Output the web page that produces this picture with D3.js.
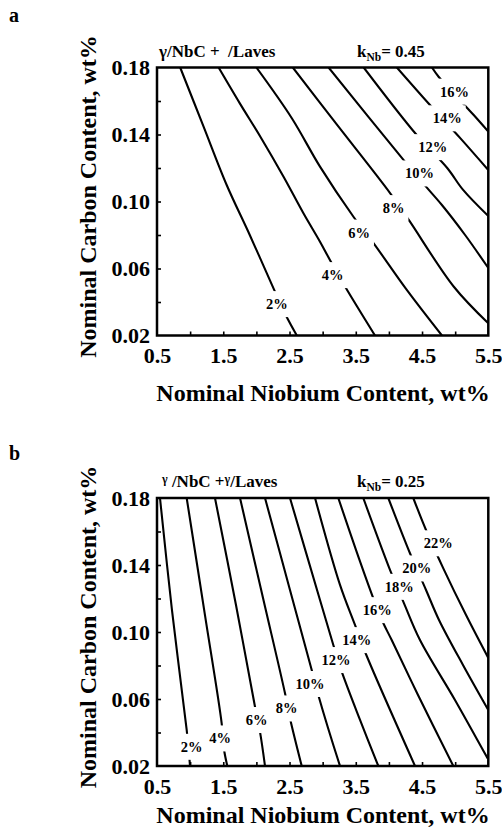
<!DOCTYPE html>
<html>
<head>
<meta charset="utf-8">
<script src="https://cdn.jsdelivr.net/npm/d3@7"></script>
<style>
  body { margin: 0; background: #fff; }
  svg text { font-family: "Liberation Serif", "Times New Roman", serif; font-weight: bold; fill: #000; }
</style>
</head>
<body>
<div id="chart"></div>
<script>
// axis ticks
var nbTicks = [0.5, 1.5, 2.5, 3.5, 4.5, 5.5];
var nbMinor = [1.0, 1.5, 2.0, 2.5, 3.0, 3.5, 4.0, 4.5, 5.0];
var cTicks = [0.02, 0.06, 0.10, 0.14, 0.18];
var cMinor = [0.04, 0.06, 0.08, 0.10, 0.12, 0.14, 0.16];

// panel a, kNb = 0.45 : iso-lines of eutectic fraction, [Nb wt%, C wt%]
var levelsA = ["2%", "4%", "6%", "8%", "10%", "12%", "14%", "16%"];
var linesA = [
  [[0.85, 0.18], [1.2, 0.145], [1.55, 0.11], [1.9, 0.08], [2.26, 0.048], [2.45, 0.0316], [2.61, 0.02]],
  [[1.43, 0.18], [1.75, 0.1586], [2.06, 0.1387], [2.41, 0.1148], [2.71, 0.093], [2.96, 0.076], [3.11, 0.0651], [3.34, 0.0491], [3.79, 0.02]],
  [[2.0, 0.18], [2.535, 0.1497], [2.96, 0.1208], [3.465, 0.0909], [3.77, 0.075], [4.27, 0.0472], [4.8, 0.02]],
  [[2.55, 0.18], [3.16, 0.1487], [4.02, 0.1049], [4.3, 0.089], [4.98, 0.0491], [5.5, 0.0273]],
  [[3.09, 0.18], [4.22, 0.1248], [4.55, 0.1093], [4.8, 0.0979], [5.15, 0.08], [5.5, 0.0603]],
  [[3.62, 0.18], [4.42, 0.1397], [4.88, 0.12], [5.12, 0.1069], [5.5, 0.0913]],
  [[4.12, 0.18], [4.62, 0.1576], [5.08, 0.1377], [5.5, 0.1188]],
  [[4.65, 0.18], [4.75, 0.1745], [5.28, 0.1516], [5.5, 0.1417]]
];
var labelsA = [[2.31, 0.0388], [3.15, 0.0561], [3.55, 0.0815], [4.07, 0.0961], [4.46, 0.1168], [4.66, 0.1325], [4.88, 0.1497], [4.99, 0.1656]];

// panel b, kNb = 0.25
var levelsB = ["2%", "4%", "6%", "8%", "10%", "12%", "14%", "16%", "18%", "20%", "22%"];
var linesB = [
  [[0.545, 0.18], [0.726, 0.1131], [0.948, 0.0415], [0.987, 0.0256], [0.998, 0.02]],
  [[0.948, 0.18], [1.224, 0.1101], [1.476, 0.0455], [1.511, 0.03], [1.561, 0.02]],
  [[1.375, 0.18], [1.692, 0.1161], [1.979, 0.0554], [2.054, 0.0405], [2.13, 0.02]],
  [[1.753, 0.18], [2.1, 0.1203], [2.432, 0.0634], [2.507, 0.0485], [2.684, 0.02]],
  [[2.13, 0.18], [2.507, 0.1251], [2.835, 0.0773], [2.934, 0.0624], [3.262, 0.02]],
  [[2.507, 0.18], [2.96, 0.1191], [3.161, 0.0922], [3.288, 0.0763], [3.564, 0.0475], [3.84, 0.02]],
  [[2.885, 0.18], [3.262, 0.1281], [3.488, 0.1042], [3.639, 0.0882], [4.394, 0.02]],
  [[3.236, 0.18], [3.503, 0.149], [3.755, 0.1211], [3.906, 0.1061], [4.042, 0.0952], [4.439, 0.0624], [4.972, 0.02]],
  [[3.613, 0.18], [4.027, 0.136], [4.228, 0.1171], [4.469, 0.0952], [4.997, 0.0594], [5.476, 0.0256], [5.5, 0.024]],
  [[3.991, 0.18], [4.318, 0.147], [4.56, 0.1251], [4.756, 0.1072], [5.118, 0.0803], [5.5, 0.0534]],
  [[4.368, 0.18], [4.56, 0.1609], [4.821, 0.138], [5.164, 0.1101], [5.5, 0.0845]]
];
var labelsB = [[1.024, 0.0315], [1.451, 0.0365], [2.005, 0.0475], [2.457, 0.0544], [2.809, 0.069], [3.201, 0.0833], [3.514, 0.0952], [3.825, 0.1131], [4.157, 0.127], [4.419, 0.138], [4.745, 0.153]];

var width = 502, height = 833;

var svg = d3.select("#chart").append("svg")
  .attr("width", width)
  .attr("height", height);

svg.append("rect").attr("width", width).attr("height", height).attr("fill", "white");

function drawPanel(p) {
  var x = d3.scaleLinear().domain([0.5, 5.5]).range([157, 488.3]);
  var y = d3.scaleLinear().domain([0.02, 0.18]).range([p.bottom, p.top]);

  var g = svg.append("g");

  g.append("clipPath").attr("id", "clip" + p.id)
    .append("rect")
      .attr("x", x(0.5)).attr("y", y(0.18))
      .attr("width", x(5.5) - x(0.5)).attr("height", y(0.02) - y(0.18));

  var line = d3.line()
    .x(function(d) { return x(d[0]); })
    .y(function(d) { return y(d[1]); })
    .curve(d3.curveCatmullRom.alpha(0.5));

  g.append("g")
    .attr("clip-path", "url(#clip" + p.id + ")")
    .selectAll("path")
    .data(p.lines)
    .enter()
    .append("path")
      .attr("d", line)
      .attr("fill", "none")
      .attr("stroke", "black")
      .attr("stroke-width", 2.1);

  // contour labels with a white patch that cuts the line
  var lab = g.append("g").selectAll("g")
    .data(p.levels)
    .enter()
    .append("g");

  lab.append("rect").attr("fill", "white");
  lab.append("text")
    .attr("x", function(d, i) { return x(p.labels[i][0]); })
    .attr("y", function(d, i) { return y(p.labels[i][1]); })
    .attr("dy", "0.35em")
    .attr("text-anchor", "middle")
    .attr("font-size", 14.5)
    .text(function(d) { return d; });

  lab.each(function() {
    var t = d3.select(this).select("text").node().getBBox();
    d3.select(this).select("rect")
      .attr("x", t.x - 4).attr("y", t.y - 5)
      .attr("width", t.width + 8).attr("height", t.height + 10);
  });

  // axes: labels
  var xAxis = g.append("g")
    .attr("transform", "translate(0," + p.bottom + ")")
    .call(d3.axisBottom(x).tickValues(nbTicks).tickSize(0).tickPadding(12).tickFormat(d3.format(".1f")));
  var yAxis = g.append("g")
    .attr("transform", "translate(157,0)")
    .call(d3.axisLeft(y).tickValues(cTicks).tickSize(0).tickPadding(7).tickFormat(d3.format(".2f")));
  [xAxis, yAxis].forEach(function(a) {
    a.select(".domain").remove();
    a.attr("font-family", null).attr("font-size", null);
    a.selectAll("text").attr("font-size", 22).attr("fill", "black");
  });
  yAxis.selectAll("text").attr("dy", "0.34em");
  xAxis.selectAll("text").attr("dy", "0.71em");

  // inward minor ticks
  var xt = g.append("g")
    .attr("transform", "translate(0," + p.bottom + ")")
    .call(d3.axisBottom(x).tickValues(nbMinor).tickSize(-4).tickFormat(""));
  var yt = g.append("g")
    .attr("transform", "translate(157,0)")
    .call(d3.axisLeft(y).tickValues(cMinor).tickSize(-4).tickFormat(""));
  [xt, yt].forEach(function(a) {
    a.select(".domain").remove();
    a.selectAll("line").attr("stroke-width", 1.6);
  });

  // frame
  g.append("rect")
    .attr("x", x(0.5)).attr("y", y(0.18))
    .attr("width", x(5.5) - x(0.5)).attr("height", y(0.02) - y(0.18))
    .attr("fill", "none")
    .attr("stroke", "black")
    .attr("stroke-width", 2.5);

  // panel letter
  svg.append("text")
    .attr("x", 9).attr("y", p.letterY)
    .attr("font-size", 20)
    .text(p.id);

  // header
  var h = svg.append("text")
    .attr("x", p.headerX).attr("y", p.top - 11)
    .attr("font-size", 17)
    .style("white-space", "pre");
  p.header(h);

  var k = svg.append("text")
    .attr("x", 357).attr("y", p.top - 11)
    .attr("font-size", 17);
  k.append("tspan").text("k");
  k.append("tspan").attr("font-size", 11.5).attr("dy", 4).text("Nb");
  k.append("tspan").attr("dy", -4).text("= " + p.k);

  // axis titles
  svg.append("text")
    .attr("x", 323).attr("y", p.bottom + p.xTitleOff)
    .attr("text-anchor", "middle")
    .attr("font-size", 24)
    .text("Nominal Niobium Content, wt%");

  svg.append("text")
    .attr("transform", "translate(96," + ((p.top + p.bottom) / 2 - 5) + ") rotate(-90)")
    .attr("text-anchor", "middle")
    .attr("font-size", 24)
    .text("Nominal Carbon Content, wt%");
}

drawPanel({
  id: "a", top: 67.5, bottom: 335.5, letterY: 22, k: "0.45", xTitleOff: 65, headerX: 159,
  lines: linesA, levels: levelsA, labels: labelsA,
  header: function(t) { t.text("\u03b3/NbC +  /Laves"); }
});

drawPanel({
  id: "b", top: 498, bottom: 766, letterY: 460, k: "0.25", xTitleOff: 57, headerX: 162,
  lines: linesB, levels: levelsB, labels: labelsB,
  header: function(t) {
    t.append("tspan").attr("font-size", 12).attr("dy", -4).text("\u03b3");
    t.append("tspan").attr("dy", 4).text(" /NbC +");
    t.append("tspan").attr("font-size", 12).attr("dy", -4).text("\u03b3");
    t.append("tspan").attr("dy", 4).text("/Laves");
  }
});
</script>
</body>
</html>
